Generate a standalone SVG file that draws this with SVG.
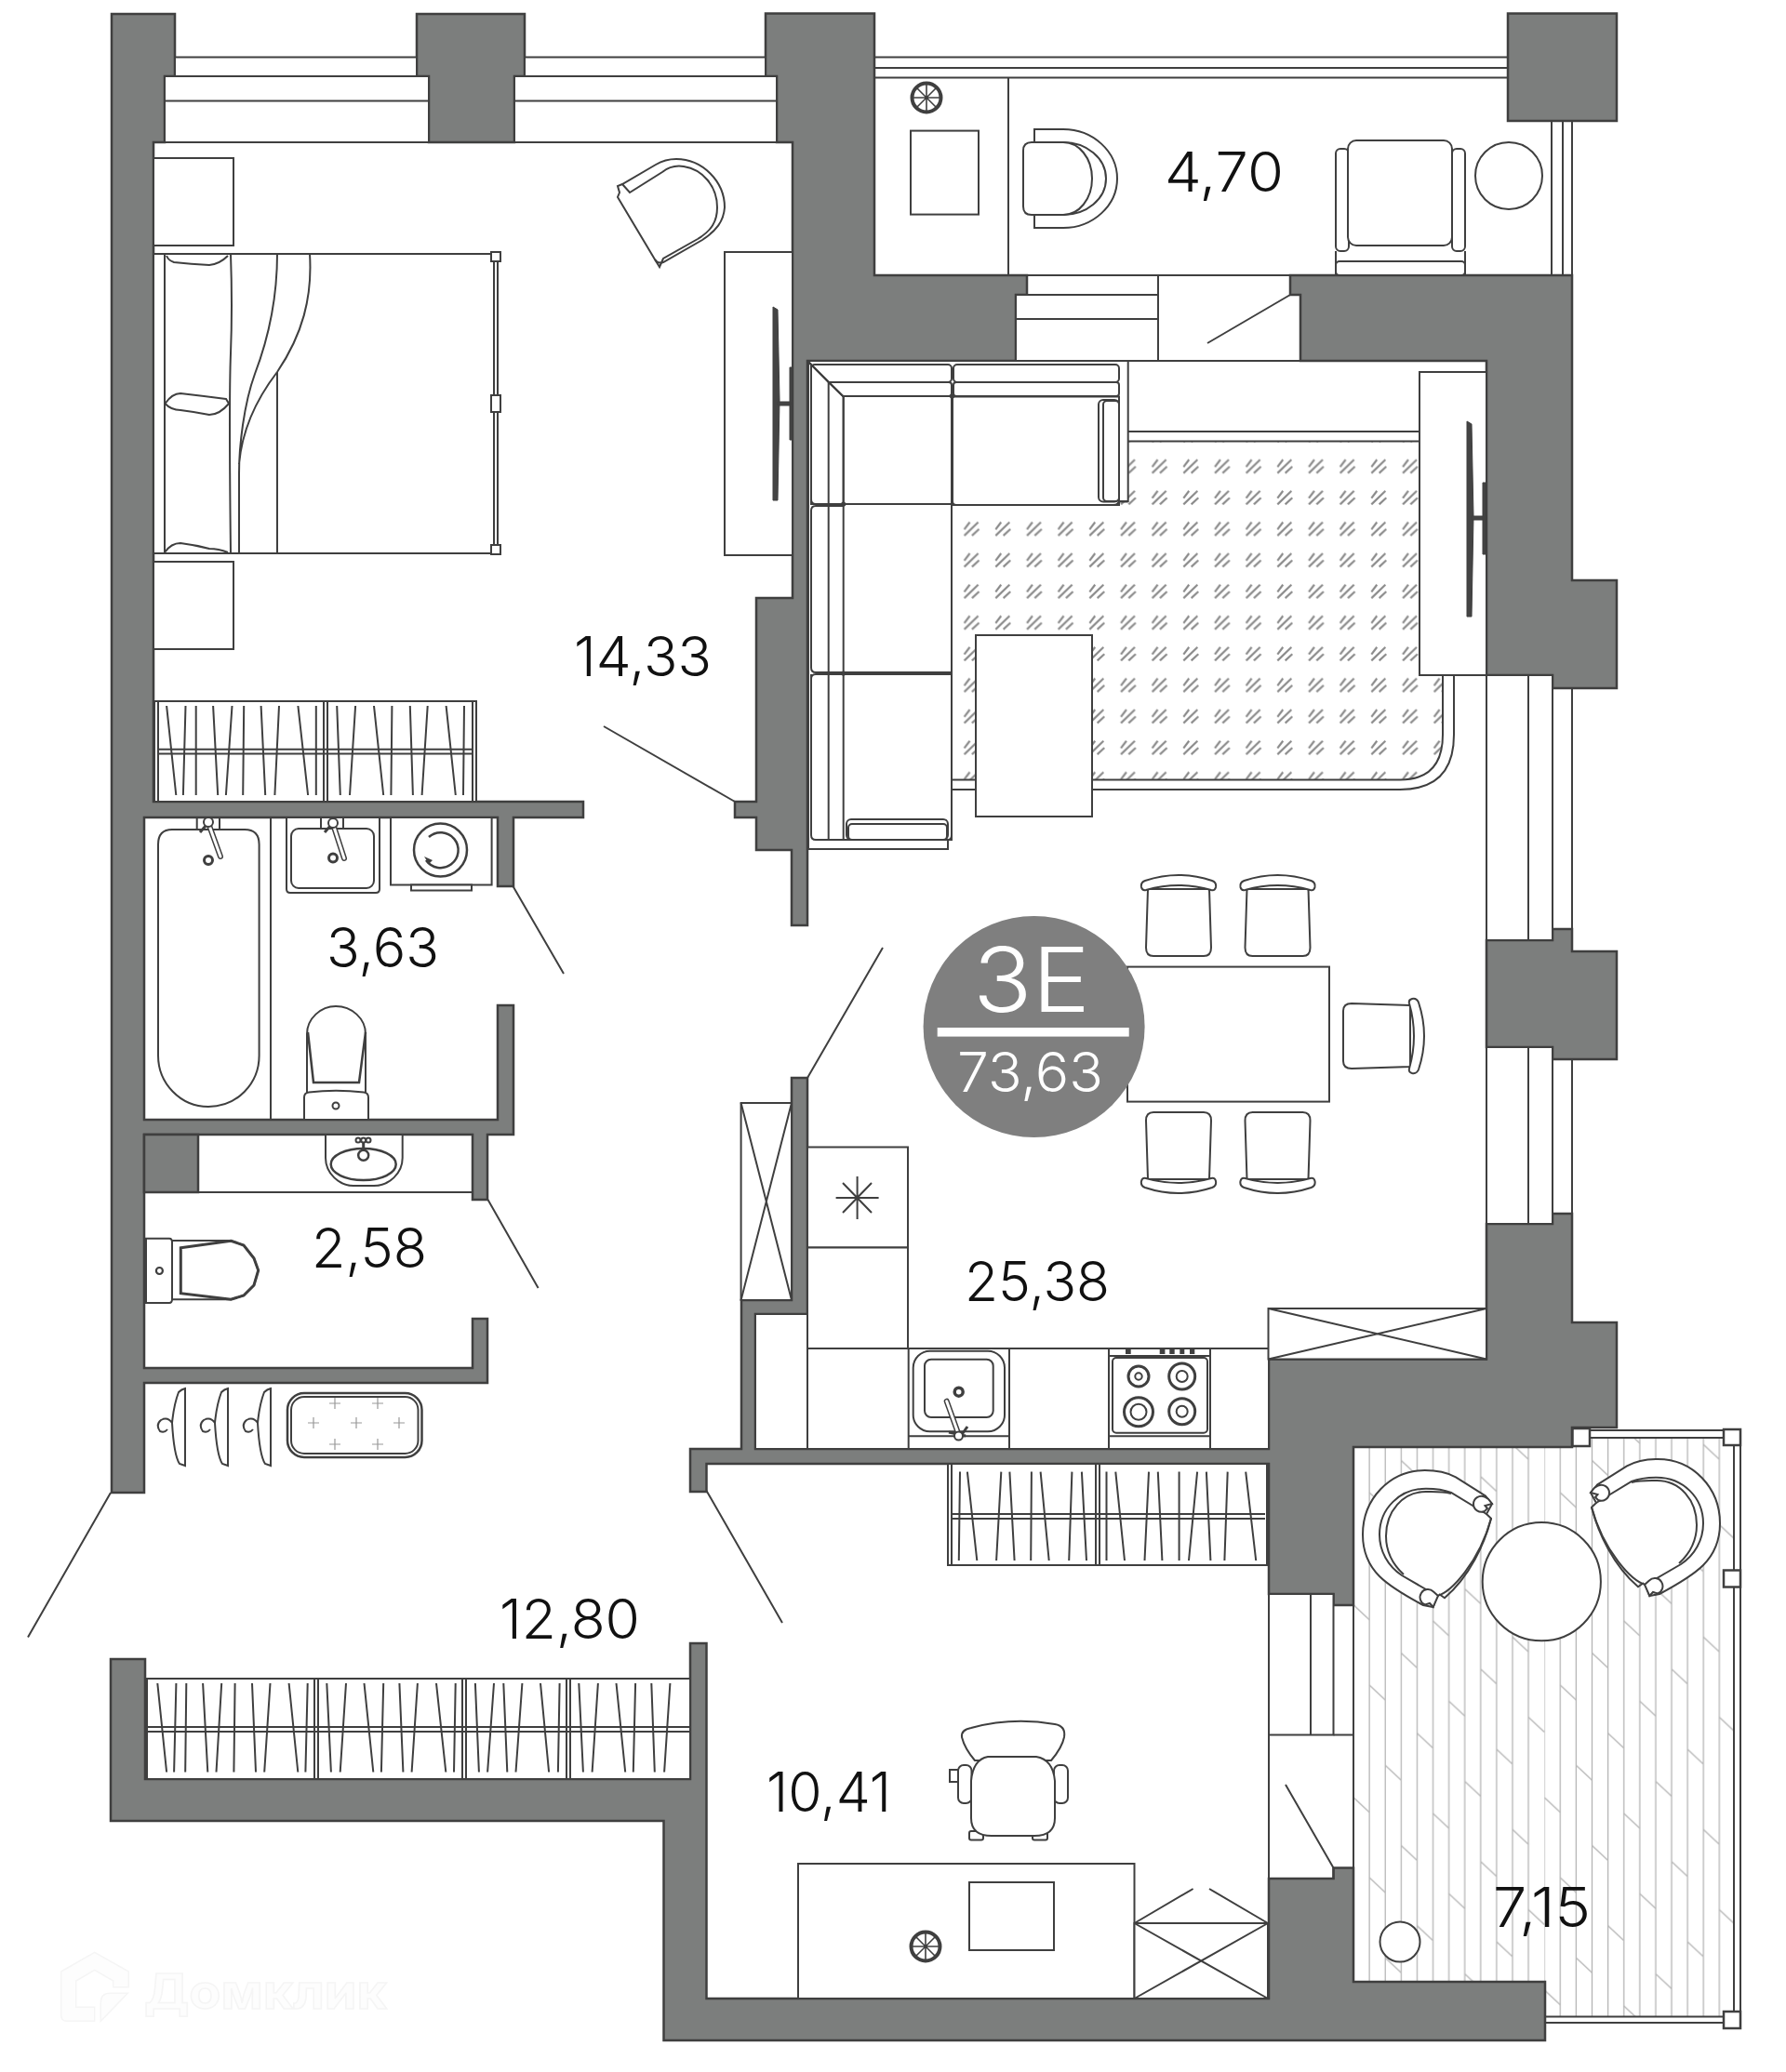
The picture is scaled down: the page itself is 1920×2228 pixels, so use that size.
<svg xmlns="http://www.w3.org/2000/svg" xmlns:xlink="http://www.w3.org/1999/xlink" width="1920" height="2228" viewBox="0 0 1920 2228">
<style>
.w{fill:#7c7e7d;stroke:#3f3f3f;stroke-width:2.5;stroke-linejoin:miter}
.l{fill:none;stroke:#3f3f3f;stroke-width:2}
.f{fill:#fff;stroke:#3f3f3f;stroke-width:2}
.lh{fill:none;stroke:#3f3f3f;stroke-width:6;stroke-linecap:round}
.lw{fill:none;stroke:#fff;stroke-width:3;stroke-linecap:round}
.dk{fill:#444;stroke:#3f3f3f;stroke-width:1}
.num{font-family:Inter,"Noto Sans",sans-serif;font-weight:300;font-size:59px;fill:#111}
.wh{font-family:Inter,"Noto Sans",sans-serif;font-weight:300;fill:#fff}
</style>
<defs>
<pattern id="hatch" patternUnits="userSpaceOnUse" width="33.67" height="33.6" patternTransform="translate(1027.45 551.85)">
<path d="M9.2 24.1L24.2 9.600M9.200 17.500L15.100 9.600M17.500 24.100L25.100 17.100" fill="none" stroke="#8a8a8a" stroke-width="2.2"/>
</pattern>
<pattern id="floor" patternUnits="userSpaceOnUse" width="205.2" height="207" patternTransform="translate(1455 1725.7)">
<path d="M0 0V207M17.1 0V207M34.2 0V207M51.3 0V207M68.4 0V207M85.5 0V207M102.600 0V207M119.7 0V207M136.8 0V207M153.9 0V207M171 0V207M188.1 0V207" fill="none" stroke="#b5b5b5" stroke-width="1.3"/>
<path d="M0 0l17.1 16M17.1 86.2l17.1 16M34.2 172.5l17.1 16M51.3 51.7l17.1 16M68.4 138l17.1 16M85.5 17.2l17.1 16M102.600 103.5l17.1 16M119.7 189.7l17.1 16M136.8 69l17.1 16M153.9 155.2l17.1 16M171 34.5l17.1 16M188.1 120.7l17.1 16" fill="none" stroke="#b5b5b5" stroke-width="1.3"/>
</pattern>
<g id="wheel"><circle r="15.500" fill="#fff" stroke="#3f3f3f" stroke-width="4"/><path d="M-15 0H15M0 -15V15M-11 -11L11 11M-11 11L11 -11" stroke="#3f3f3f" stroke-width="1.600"/></g>
<g id="dchair"><path class="f" d="M-33 15L-35 78Q-35 87 -27 87H27Q35 87 35 78L33 15Z"/><path class="f" d="M-36 6Q0 -6 36 6Q41 8 40 13Q39 17 35 16Q0 6 -35 16Q-39 17 -40 13Q-41 8 -36 6Z"/></g>
<g id="hanger"><path class="l" d="M199 1493V1576L193 1574Q187 1565 185 1530Q187 1510 192 1497Q195 1494 199 1493ZM185 1530Q180 1523 173 1527Q167 1532 172 1539Q177 1541 180 1537"/></g>
<g id="plus"><path d="M-6 0H6M0 -6V6" stroke="#999" stroke-width="1.200"/></g>
</defs>
<rect width="1920" height="2228" fill="#fff"/>

<g id="watermark" fill="#fdfdfd" stroke="#f5f5f5" stroke-width="1.500">
<path d="M65.700 2120L101.700 2099.300L138.300 2120V2136.700H121.700V2130L101.700 2118.300L81.700 2130V2158.300H101.700V2173.300H71.700Q65.700 2173.300 65.700 2167Z"/>
<path d="M108.300 2173.300V2153.300Q108.300 2143.300 118.300 2143.300H137.300Z"/>
<text x="155" y="2160" textLength="261" lengthAdjust="spacingAndGlyphs" style="font-family:Inter,'Noto Sans',sans-serif;font-size:52px;font-weight:700">Домклик</text>
</g>

<g id="floors">
<path fill="url(#floor)" d="M1455 1556H1690V1546H1864V2168H1661V2131H1455Z"/>
<path fill="url(#hatch)" d="M1203 475H1551V790Q1551 838 1505 838H1023V543H1203Z"/>
<path class="l" d="M1212 464H1526M1212 474.500H1526M1551 726V790Q1551 838.500 1505 838.500H1024M1563 726V790Q1563 849 1505 849H1024"/>
</g>

<g id="walls">
<path class="w" d="M120 15H188V82H177V153H165V862H627V879H552V953H535V879H155V1204H535V1081H552V1220H524V1290H508V1220H155V1471H508V1418H524V1487H155V1605H120Z"/>
<path class="w" d="M448 15H564V82H553V153H461V82H448Z"/>
<path class="w" d="M823 14.500H940V296H1104V317H1092V388H868V995H851V914H813V879H790V862H813V643H852V153H835V82H823Z"/>
<path class="w" d="M1621 14.500H1738V130H1621Z"/>
<path class="w" d="M1387 296H1690V624H1738V740H1669V726H1598V388H1398V317H1387Z"/>
<path class="w" d="M1598 1011H1669V999H1690V1023H1738V1139H1690H1669V1126H1598Z"/>
<path class="w" d="M1598 1316H1669V1305H1690V1422H1738V1535H1690V1556H1455V1726H1433.500V1714H1364V1574H759.500V1604H742V1558H797V1398H851V1159H868V1413H812V1558H1364V1461.500H1598Z"/>
<path class="w" d="M119 1784H156V1913H742V1767H759.500V2149H1364V2020H1433.500V2008.600H1455V2131H1661V2194H713.500V1958H119Z"/>
<rect class="w" x="155" y="1220" width="58" height="62"/>
</g>

<g id="windows">
<rect class="f" x="188" y="61.500" width="260" height="20.500"/>
<rect class="f" x="564" y="61.500" width="259" height="20.500"/>
<path class="f" d="M177 82H461V153H177ZM177 108.600H461"/>
<path class="f" d="M553 82H835V153H553ZM553 108.600H835"/>
<path class="l" d="M940 61.500H1621M940 73H1621M940 83.400H1621M1668 130V296M1680 130V296M1690 130V296"/>
<path class="f" d="M1104 296H1245V317H1092V388H1245V296M1092 343H1245"/>
<path class="l" d="M1245 296H1387V317H1398V388H1245M1298 369L1387 317"/>
<path class="f" d="M1598 726H1669V1011H1598ZM1643 726V1011"/>
<path class="l" d="M1690 740V999"/>
<path class="f" d="M1598 1126H1669V1316H1598ZM1643 1126V1316"/>
<path class="l" d="M1690 1139V1305"/>
<path class="f" d="M1364 1714H1433.500V1865.500H1364ZM1409 1714V1865.500"/>
<path class="l" d="M1433.500 1726H1455V1865.500H1433.500M1364 1865.500V2020H1433.500V2008.600M1455 1865.500V2008.600M1382 1919L1433.500 2008.600"/>
</g>

<g id="connectors">
<path class="l" d="M551.500 953L606 1047M524.500 1290L578.600 1385M649 781L790 862M949 1019L868 1159M119 1605L30 1760.500M759.500 1603L841 1745"/>
</g>

<g id="bedroom">
<rect class="f" x="165" y="170" width="86" height="94"/>
<rect class="f" x="165" y="604" width="86" height="94"/>
<rect class="f" x="165" y="273" width="368" height="322"/>
<path class="l" d="M177 273V595M248 273Q250 330 248 380T248 595"/>
<path class="l" d="M179 275Q181 280 187 282Q205 284 225 285Q236 284 245 275"/>
<path class="l" d="M177.500 434Q185 423 194 423Q220 426 243 429L246 434Q236 446 225 446Q210 443 194 441Q184 441 177.500 434Z"/>
<path class="l" d="M177 594Q184 584 194 584Q210 586 225 590Q235 590 245 594"/>
<path class="l" d="M298 273C298 320 290 360 274 402C262 435 257 480 257 509V595M333 273C336 320 325 360 298 400C275 430 260 465 257 499M298 400V595"/>
<path class="f" d="M531 276H535V591H531Z"/>
<rect class="f" x="528" y="271" width="10" height="10"/>
<rect class="f" x="528" y="425" width="10" height="18"/>
<rect class="f" x="528" y="586" width="10" height="10"/>
<path class="f" d="M664 212L704 279Q707 284 713 282L755 258C770 248 778 238 779 223C779 195 755 171 727 171Q715 171 705 177L669 198L664 200L666 207Z"/>
<path class="l" d="M669 198L677 207L712 185Q722 177 735 179C755 182 771 200 771 223C771 238 765 248 750 257L713 278L709 287L704 279"/>
<rect class="f" x="779" y="271" width="73" height="326"/>
<path class="dk" d="M831 330L836 333L838 430L836 538H831Z"/>
<path class="dk" d="M836 432H850V436H836ZM849 395H852V473H849Z"/>
</g>

<g id="bedroom-wardrobe">
<rect class="f" x="166" y="754" width="346" height="108"/>
<path class="l" d="M170 754V862M508 754V862M348 754V862M352 754V862M170 805.700H508M170 810.600H508"/>
<path class="l" d="M179.100 759L189.300 855M199.500 759L196.900 855M210.700 759V855M229.100 759L234.200 855M249.500 759L242.900 855M262.200 759L261.200 855M280.600 759L285.200 855M300 759L295.400 855M320.400 759L331.100 855M339.800 759V855M362.200 759L365.800 855M382.100 759L376 855M402 759L412.200 855M421.400 759L420.400 855M440.800 759L443.900 855M459.700 759L453.600 855M479.600 759L489.800 855M499 759L498 855"/>
</g>

<g id="balcony-north">
<path class="l" d="M1084 83.400V296"/>
<use href="#wheel" x="996" y="105"/>
<rect class="f" x="979" y="140.600" width="73" height="90"/>
<path class="f" d="M1112 139H1143C1175 139 1201 163 1201 192C1201 221 1175 245 1143 245H1112Z"/>
<path class="f" d="M1112 153H1143C1168 153 1189 170 1189 192C1189 214 1168 231 1143 231H1112Z"/>
<path class="f" d="M1109 153H1143C1160 153 1174 170 1174 192C1174 214 1160 231 1143 231H1109Q1100 231 1100 222V162Q1100 153 1109 153Z"/>
<rect class="f" x="1436" y="160" width="14" height="110" rx="5"/>
<rect class="f" x="1561" y="160" width="14" height="110" rx="5"/>
<rect class="f" x="1449" y="151" width="112" height="113" rx="9"/>
<rect class="f" x="1436" y="281" width="139" height="15" rx="4"/>
<path class="l" d="M1436 270V296M1575 270V296"/>
<circle class="f" cx="1622" cy="189" r="36"/>
</g>

<g id="sofa">
<path class="f" d="M868 388H1212.700V539H1203V543H1023V903H1019V913H869V388Z"/>
<rect class="l" x="872" y="392" width="151" height="19" rx="4"/>
<rect class="l" x="1025" y="392" width="178" height="19" rx="4"/>
<rect class="l" x="891" y="411" width="132" height="15" rx="3"/>
<rect class="l" x="1025" y="411" width="178" height="15" rx="3"/>
<path class="f" d="M868 388L890.700 411L906.700 426.500V542H872V392Z" stroke="none"/>
<path class="l" d="M868 388L906.700 426.500V903M890.700 411V903M872 392V537Q872 542 877 542H906.700M872 549Q872 544 877 544H906.700V723H877Q872 723 872 718ZM872 730Q872 725 877 725H906.700M872 725V898Q872 903 877 903H1019"/>
<path class="l" d="M906.700 426H1023V543M906.700 542H1023M906.700 723H1023M906.700 725H1023M1023 543V723M1023 725V898Q1023 903 1019 903"/>
<path class="f" d="M1024 426.500H1203V537Q1203 543 1197 543H1028Q1024 543 1024 539Z"/>
<rect class="f" x="1181" y="430" width="22" height="109.500" rx="5"/>
<rect class="f" x="1186" y="431" width="17" height="108" rx="4"/>
<path class="l" d="M1203 539.500H1212.700"/>
<rect class="f" x="910" y="881" width="109" height="22" rx="5"/>
<rect class="f" x="912" y="886" width="106" height="17" rx="4"/>
<circle cx="906.700" cy="542" r="2.600" fill="#3f3f3f"/>
<circle cx="906.700" cy="724" r="2.600" fill="#3f3f3f"/>
<circle cx="1023.500" cy="426" r="2.600" fill="#3f3f3f"/>
<rect class="f" x="1049" y="683" width="125" height="195" stroke-width="2.400"/>
</g>

<g id="living">
<rect class="f" x="1526" y="400" width="72" height="326"/>
<path class="dk" d="M1577 453L1582 456L1584 555L1582 663H1577Z"/>
<path class="dk" d="M1582 555H1595V559H1582ZM1594 519H1597V596H1594Z"/>
<rect class="f" x="1212" y="1039.600" width="217" height="145"/>
<use href="#dchair" x="1267" y="941"/>
<use href="#dchair" x="1373.500" y="941"/>
<use href="#dchair" transform="translate(1267 1283) scale(1 -1)"/>
<use href="#dchair" transform="translate(1373.500 1283) scale(1 -1)"/>
<use href="#dchair" transform="translate(1531 1114) rotate(90)"/>
</g>

<g id="kitchen">
<rect class="f" x="796.600" y="1186" width="54.400" height="212"/>
<path class="l" d="M796.600 1186L851 1398M851 1186L796.600 1398"/>
<path class="f" d="M812 1413H868V1558H812Z"/>
<rect class="f" x="868" y="1233.500" width="108" height="108"/>
<path class="l" d="M921.600 1265V1311M898.600 1288H944.600M906 1272L937 1304M937 1272L906 1304"/>
<rect class="f" x="868" y="1341.500" width="108" height="108.500"/>
<rect class="f" x="868" y="1450" width="496" height="108"/>
<path class="l" d="M976.700 1450V1558M1085 1450V1558M1192 1450V1558M1301 1450V1558M976.700 1544.300H1085M1192 1544.300H1301M1192 1458H1301"/>
<rect class="l" x="981.700" y="1452.700" width="98.300" height="86.600" rx="18"/>
<rect class="l" x="994" y="1461.700" width="73.700" height="62.300" rx="7"/>
<circle class="l" cx="1030.700" cy="1496.700" r="4.500" style="stroke-width:3.500"/>
<path class="lh" d="M1017.700 1506.700L1030 1541"/><path class="lw" d="M1017.700 1506.700L1030 1541"/>
<path class="l" d="M1020 1540L1038 1544M1040 1534L1033 1544" style="stroke-width:3"/>
<circle class="f" cx="1030.500" cy="1544" r="4.500"/>
<rect class="f" x="1363.500" y="1407" width="234.500" height="54.500"/>
<path class="l" d="M1363.500 1407L1598 1461.500M1598 1407L1363.500 1461.500"/>
<rect class="l" x="1196" y="1460" width="102" height="80.700" rx="4"/>
<path fill="#3f3f3f" d="M1210 1451h5.700v5h-5.700zM1246.700 1451h5.700v5h-5.700zM1257.300 1451h5.400v5h-5.400zM1268.300 1451h5v5h-5zM1279 1451h5.300v5h-5.300z"/>
<circle class="l" cx="1224" cy="1480" r="11" style="stroke-width:3"/><circle class="l" cx="1224" cy="1480" r="3.700"/>
<circle class="l" cx="1270.700" cy="1480" r="14" style="stroke-width:3"/><circle class="l" cx="1270.700" cy="1480" r="6"/>
<circle class="l" cx="1224" cy="1518.300" r="15.500" style="stroke-width:3"/><circle class="l" cx="1224" cy="1518.300" r="8.500"/>
<circle class="l" cx="1270.700" cy="1517.700" r="14" style="stroke-width:3"/><circle class="l" cx="1270.700" cy="1517.700" r="6"/>
</g>

<g id="badge">
<circle cx="1111.600" cy="1104" r="119" fill="#7f7f7f"/>
<rect x="1007.700" y="1105" width="206" height="9.600" fill="#fff"/>
<text class="wh" x="1046" y="1088" font-size="96" textLength="126" lengthAdjust="spacingAndGlyphs">3E</text>
<text class="wh" x="1029" y="1174" font-size="59" textLength="157" lengthAdjust="spacingAndGlyphs">73,63</text>
</g>

<g id="kitchen-wardrobe">
<rect class="f" x="1019" y="1574" width="343" height="109"/>
<path class="l" d="M1023 1574V1683M1178 1574V1683M1182 1574V1683M1023 1628H1360M1023 1633H1360"/>
<path class="l" d="M1032 1582.600L1030.800 1678M1039.900 1582.600L1050.300 1678M1076.300 1582.600L1071.100 1678M1085.400 1582.600L1090.600 1678M1108.900 1582.600L1108.200 1678M1118.600 1582.600L1127.700 1678M1152.400 1582.600L1149.200 1678M1162.900 1582.600L1168 1678M1189.500 1582.600V1678M1199.300 1582.600L1209 1678M1235 1582.600L1230.500 1678M1244.800 1582.600L1249.400 1678M1267.600 1582.600V1678M1287.100 1582.600L1278 1678M1296.900 1582.600L1301.400 1678M1319.700 1582.600L1316.400 1678M1339.200 1582.600L1350.200 1678"/>
</g>

<g id="bathroom">
<path class="l" d="M291 879V1204"/>
<rect class="l" x="211.700" y="879" width="24.300" height="13"/>
<path class="f" d="M185 892H263Q278.600 892 278.600 908V1135C278.600 1165 255 1190 224 1190C194 1190 170 1165 170 1135V908Q170 892 185 892Z"/>
<circle class="f" cx="224" cy="925" r="4.500" style="stroke-width:3"/>
<path class="l" d="M215 895L222 887" style="stroke-width:3"/>
<path class="lh" d="M224 885L237 921"/><path class="lw" d="M224 885L237 921"/>
<circle class="f" cx="224" cy="884" r="5"/>
<path class="f" d="M308 879H408V956Q408 960 404 960H312Q308 960 308 956Z"/>
<rect class="l" x="345" y="879" width="24" height="13"/>
<rect class="f" x="313" y="891" width="89" height="64" rx="8"/>
<circle class="f" cx="358" cy="922.600" r="4.500" style="stroke-width:3"/>
<path class="l" d="M349 895L356 887" style="stroke-width:3"/>
<path class="lh" d="M358 886L370 923"/><path class="lw" d="M358 886L370 923"/>
<circle class="f" cx="358" cy="885" r="5"/>
<rect class="f" x="420" y="879" width="108.600" height="72.500"/>
<rect class="f" x="442" y="951.500" width="65" height="6"/>
<circle class="f" cx="473.500" cy="914" r="28.500" style="stroke-width:2.500"/>
<path class="l" d="M461 900A19 19 0 1 1 458 925" style="stroke-width:2.500"/>
<path fill="#3f3f3f" d="M456 921L461 929L465 925Z"/>
<path class="f" d="M330 1204V1112C330 1095 345 1082 361 1082C378 1082 393 1095 393 1112V1204Z"/>
<path class="l" d="M331 1110L337 1164H386L393 1110" style="stroke-width:2.500"/>
<path class="f" d="M327 1204V1180Q327 1175 332 1174.500Q361 1171 391 1174.500Q396 1175 396 1180V1204Z"/>
<circle class="f" cx="361" cy="1189" r="3.500"/>
</g>

<g id="wc">
<path class="l" d="M213 1282H508"/>
<path class="f" d="M350 1221V1245C350 1262 365 1275 380 1275H402C418 1275 432.700 1262 432.700 1245V1221"/>
<ellipse class="l" cx="390.700" cy="1252" rx="35" ry="17" style="stroke-width:2.500"/>
<path class="l" d="M390.700 1227V1238" style="stroke-width:3"/>
<circle class="f" cx="385" cy="1226" r="2.500"/><circle class="f" cx="390.700" cy="1226" r="2.500"/><circle class="f" cx="396" cy="1226" r="2.500"/>
<circle class="f" cx="390.700" cy="1242.300" r="5.500" style="stroke-width:2.500"/>
<path class="f" d="M185 1334H248.300L262 1339L273 1353L277.700 1366L273 1382L262 1393L248.300 1397.300H185Z"/>
<path class="l" d="M194.300 1341.700L248.300 1334.300L262 1339L273 1353L277.700 1366L273 1382L262 1393L248.300 1397.300L194.300 1390.700Z" style="stroke-width:3"/>
<path class="f" d="M157 1331.700H182Q185 1331.700 185 1336V1397Q185 1401 182 1401H157Z"/>
<circle class="f" cx="171.400" cy="1366.500" r="3.500" style="stroke-width:2.200"/>
</g>

<g id="hall">
<use href="#hanger"/>
<use href="#hanger" x="46"/>
<use href="#hanger" x="92"/>
<rect class="l" x="309" y="1498" width="144.500" height="69" rx="18" style="stroke-width:2.500"/>
<rect class="l" x="313" y="1502" width="136.500" height="61" rx="14"/>
<use href="#plus" x="360" y="1509"/><use href="#plus" x="406" y="1509"/><use href="#plus" x="337" y="1530"/><use href="#plus" x="383" y="1530"/><use href="#plus" x="429" y="1530"/><use href="#plus" x="360" y="1553"/><use href="#plus" x="406" y="1553"/>
</g>

<g id="hall-wardrobe">
<rect class="f" x="158" y="1805" width="584" height="108"/>
<path class="l" d="M338 1805V1913M342 1805V1913M497 1805V1913M501 1805V1913M609 1805V1913M613 1805V1913M158 1857H742M158 1862H742"/>
<path class="l" d="M169.300 1810L179.100 1905.500M189.400 1810L187.100 1905.500M200.300 1810L199.200 1905.500M218.100 1810L223.300 1905.500M238.200 1810L232.500 1905.500M252.600 1810L251.400 1905.500M271 1810L275 1905.500M290.500 1810L284.200 1905.500M310.600 1810L320.300 1905.500M330.700 1810L328.400 1905.500M351.300 1810L355.900 1905.500M372 1810L365.700 1905.500M391.500 1810L401.300 1905.500M412.200 1810L409.900 1905.500M429.400 1810L433.400 1905.500M448.900 1810L442.600 1905.500M469 1810L479.300 1905.500M489.700 1810L488 1905.500M510.900 1810L514.900 1905.500M531 1810L524.100 1905.500M541.300 1810L545.300 1905.500M561.400 1810L554.500 1905.500M581 1810L590.100 1905.500M601.600 1810L599.900 1905.500M622.300 1810L626.900 1905.500M642.900 1810L636.600 1905.500M662.500 1810L672.200 1905.500M683.100 1810L680.800 1905.500M700.300 1810L703.800 1905.500M720.400 1810L714.100 1905.500"/>
</g>

<g id="study">
<rect class="f" x="858" y="2004" width="361.500" height="145"/>
<rect class="f" x="1042" y="2024" width="91" height="73"/>
<use href="#wheel" x="995" y="2093"/>
<rect class="f" x="1219.500" y="2068" width="143.500" height="81"/>
<path class="l" d="M1219.500 2068L1363 2149M1363 2068L1219.500 2149M1219.500 2068L1282.600 2031M1363 2068L1300 2031"/>
<rect class="f" x="1042" y="1969" width="15" height="9.600" rx="2"/>
<rect class="f" x="1110" y="1969" width="16" height="9.600" rx="2"/>
<path class="f" d="M1044 1858Q1088 1846 1134 1854Q1146 1856 1144 1868C1142 1878 1136 1886 1130 1893H1048C1042 1886 1036 1876 1034 1868Q1033 1860 1044 1858Z"/>
<rect class="f" x="1021" y="1903" width="10" height="13"/>
<rect class="f" x="1030" y="1898" width="14.500" height="41" rx="6"/>
<rect class="f" x="1133" y="1898" width="15" height="41" rx="6"/>
<path class="f" d="M1062 1889H1114Q1132 1892 1134 1915V1955Q1134 1974 1112 1974H1066Q1044 1974 1044 1955V1915Q1046 1892 1062 1889Z"/>
</g>

<g id="balcony-south">
<path class="l" d="M1709 1538H1853M1709 1546H1853M1864 1554V1688.500M1871 1554V2163M1661 2168.500H1853M1661 2175H1853M1864 1706V2163"/>
<rect class="f" x="1690.500" y="1536" width="18.500" height="19" style="stroke-width:2.500"/>
<rect class="f" x="1853" y="1537" width="18" height="17" style="stroke-width:2.500"/>
<rect class="f" x="1853" y="1688.500" width="18" height="18" style="stroke-width:2.500"/>
<rect class="f" x="1853" y="2163" width="18" height="18" style="stroke-width:2.500"/>
<g id="lounge-left">
<path class="f" d="M1596.700 1608.300L1565 1588.300C1555 1583 1545 1581 1531.700 1581C1494 1581 1465 1612 1465 1650C1465 1670 1472 1684 1483 1695C1495 1707 1515 1718 1530 1726L1540.700 1728L1545 1716C1560 1712 1590 1680 1603 1632.700L1598 1628L1604 1617Z"/>
<path class="l" d="M1598 1628L1560 1605C1550 1601 1542 1600.700 1533 1600.700C1505 1600.700 1483 1622 1483 1650C1483 1668 1492 1684 1507 1694L1545 1716"/>
<path class="l" d="M1560 1606C1550 1603.500 1542 1604 1533 1604C1508 1604 1490 1625 1490 1651.700C1490 1668 1497 1682 1509 1693"/>
<path class="l" d="M1603 1632.700C1596 1660 1580 1695 1553 1718.300L1547 1714"/>
<path class="f" d="M1596 1609.500A8.500 8.500 0 1 0 1596 1625L1599 1622L1596.500 1619L1604 1617L1600 1612Z"/>
<path class="f" d="M1541 1711.500A8.500 8.500 0 1 0 1532 1725.500L1537 1724L1540.700 1728L1546 1716Z"/>
</g>
<use href="#lounge-left" transform="translate(3314 -12) scale(-1 1)"/>
<circle class="f" cx="1657.300" cy="1700.700" r="63.600"/>
<circle class="f" cx="1505" cy="2088" r="21.500"/>
</g>

<g id="labels">
<text class="num" x="617" y="727" textLength="148" lengthAdjust="spacingAndGlyphs">14,33</text>
<text class="num" x="1252" y="205.500" textLength="128" lengthAdjust="spacingAndGlyphs">4,70</text>
<text class="num" x="351" y="1040" textLength="121" lengthAdjust="spacingAndGlyphs">3,63</text>
<text class="num" x="335" y="1363" textLength="124" lengthAdjust="spacingAndGlyphs">2,58</text>
<text class="num" x="1037" y="1399" textLength="156" lengthAdjust="spacingAndGlyphs">25,38</text>
<text class="num" x="537" y="1761.500" textLength="151" lengthAdjust="spacingAndGlyphs">12,80</text>
<text class="num" x="824" y="1947.600" textLength="134" lengthAdjust="spacingAndGlyphs">10,41</text>
<text class="num" x="1605" y="2071.600" textLength="105" lengthAdjust="spacingAndGlyphs">7,15</text>
</g>
</svg>
